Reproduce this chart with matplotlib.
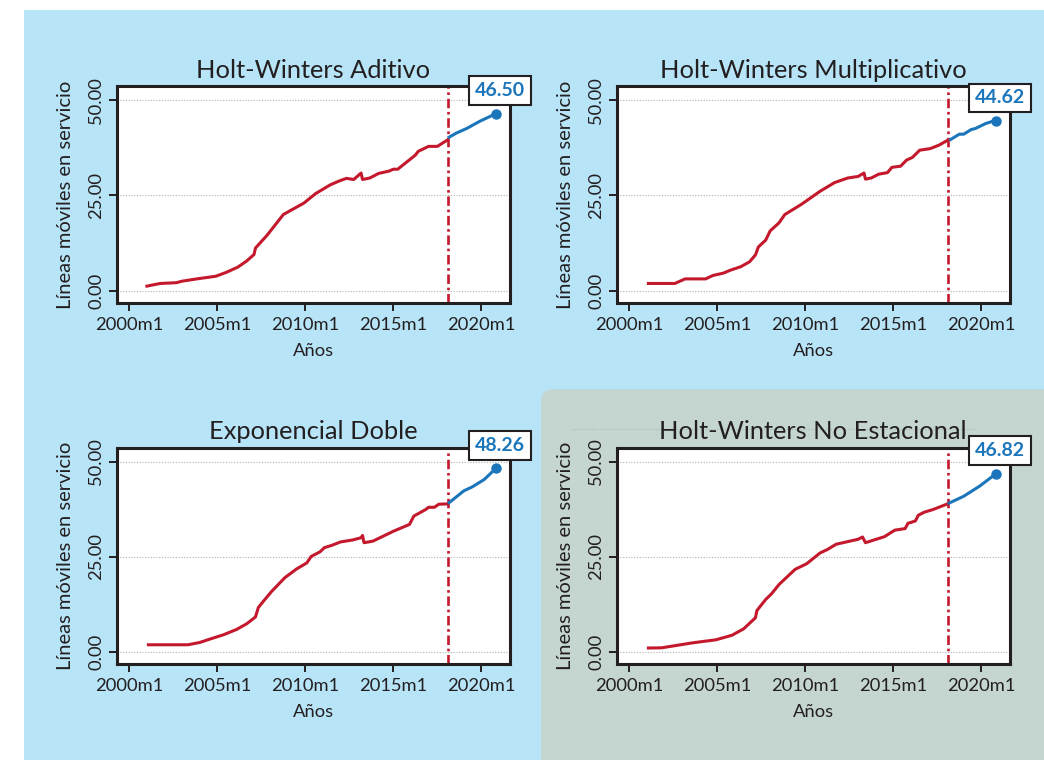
import matplotlib.pyplot as plt
from matplotlib.patches import Rectangle, FancyBboxPatch
from matplotlib.lines import Line2D

plt.rcParams['font.family'] = ['Lato', 'DejaVu Sans']

RED = '#c4182d'
BLUE = '#1b75bb'
INK = '#231f20'
SKY = '#b8e4f8'
SAGE = '#c5d5d0'

# fitted (red) and forecast (blue) series, Stata monthly dates
aditivo_hist_t = ['2001m1', '2001m10', '2002m9', '2003m1', '2003m11', '2004m12', '2005m7',
                  '2006m3', '2006m9', '2007m2', '2007m3', '2007m11', '2008m10', '2009m4',
                  '2009m12', '2010m8', '2011m6', '2011m12', '2012m5', '2012m10', '2013m3',
                  '2013m4', '2013m9', '2014m3', '2014m10', '2015m1', '2015m4', '2016m4',
                  '2016m6', '2017m1', '2017m7', '2018m2']
aditivo_hist_y = [1.2, 1.9, 2.1, 2.5, 3.1, 3.8, 4.8,
                  6.2, 7.8, 9.5, 11.2, 14.6, 20.0, 21.3,
                  23.0, 25.5, 27.8, 28.8, 29.5, 29.2, 30.9,
                  29.2, 29.6, 30.8, 31.4, 31.9, 31.9, 35.6,
                  36.6, 37.9, 37.9, 39.6]
aditivo_fc_t = ['2018m3', '2018m8', '2019m3', '2019m12', '2020m11']
aditivo_fc_y = [40.3, 41.4, 42.6, 44.5, 46.50]

multi_hist_t = ['2001m2', '2002m8', '2003m3', '2004m5', '2004m10', '2005m5', '2005m10',
                '2006m5', '2006m11', '2007m3', '2007m5', '2007m10', '2008m1', '2008m7',
                '2008m11', '2009m10', '2010m4', '2010m11', '2011m9', '2012m6', '2013m1',
                '2013m5', '2013m6', '2013m10', '2014m3', '2014m9', '2014m12', '2015m6',
                '2015m10', '2016m2', '2016m7', '2017m2', '2017m8', '2018m2']
multi_hist_y = [1.9, 1.9, 3.1, 3.1, 4.0, 4.6, 5.4,
                6.3, 7.6, 9.4, 11.5, 13.3, 15.7, 17.8,
                20.0, 22.6, 24.2, 26.1, 28.4, 29.6, 30.0,
                30.9, 29.3, 29.6, 30.6, 31.0, 32.4, 32.7,
                34.3, 35.0, 36.9, 37.3, 38.2, 39.5]
multi_fc_t = ['2018m4', '2018m10', '2019m1', '2019m6', '2019m9', '2020m4', '2020m8', '2020m11']
multi_fc_y = [39.7, 41.1, 41.1, 42.3, 42.6, 43.9, 44.4, 44.62]

doble_hist_t = ['2001m2', '2003m5', '2004m1', '2004m8', '2005m5', '2006m2', '2006m9',
                '2007m3', '2007m5', '2007m9', '2008m2', '2008m11', '2009m7', '2010m2',
                '2010m5', '2010m11', '2011m2', '2011m7', '2012m1', '2012m9', '2013m3',
                '2013m4', '2013m5', '2013m11', '2015m1', '2015m12', '2016m3', '2016m11',
                '2017m1', '2017m5', '2017m8', '2018m2']
doble_hist_y = [1.9, 1.9, 2.5, 3.4, 4.5, 5.9, 7.4,
                9.2, 11.7, 13.6, 15.9, 19.5, 21.8, 23.4,
                25.1, 26.3, 27.4, 28.0, 28.9, 29.4, 30.0,
                30.6, 28.7, 29.1, 31.7, 33.5, 35.7, 37.4,
                38.0, 38.0, 38.8, 38.9]
doble_fc_t = ['2018m3', '2019m1', '2019m7', '2020m3', '2020m11']
doble_fc_y = [39.2, 42.3, 43.4, 45.3, 48.26]

noest_hist_t = ['2001m2', '2001m11', '2003m8', '2004m12', '2005m11', '2006m7', '2007m3',
                '2007m4', '2007m10', '2008m2', '2008m7', '2009m6', '2010m2', '2010m11',
                '2011m4', '2011m10', '2013m1', '2013m4', '2013m6', '2014m7', '2015m2',
                '2015m9', '2015m11', '2016m4', '2016m6', '2016m10', '2017m4', '2018m2']
noest_hist_y = [1.05, 1.1, 2.4, 3.2, 4.4, 6.1, 9.0,
                10.9, 13.8, 15.3, 17.7, 21.7, 23.2, 26.0,
                26.9, 28.3, 29.6, 30.2, 28.7, 30.3, 32.0,
                32.4, 33.8, 34.4, 35.9, 36.7, 37.4, 38.9]
noest_fc_t = ['2018m3', '2019m1', '2019m12', '2020m11']
noest_fc_y = [39.1, 40.9, 43.6, 46.82]

titles = ['Holt-Winters Aditivo', 'Holt-Winters Multiplicativo',
          'Exponencial Doble', 'Holt-Winters No Estacional']
split_month = '2018m2'
x_ticks = ['2000m1', '2005m1', '2010m1', '2015m1', '2020m1']
y_ticks = [0, 25, 50]


def ym(label):
    # '2018m2' -> 2018.083
    year, month = label.split('m')
    return int(year) + (int(month) - 1) / 12


panels = [
    (aditivo_hist_t, aditivo_hist_y, aditivo_fc_t, aditivo_fc_y),
    (multi_hist_t, multi_hist_y, multi_fc_t, multi_fc_y),
    (doble_hist_t, doble_hist_y, doble_fc_t, doble_fc_y),
    (noest_hist_t, noest_hist_y, noest_fc_t, noest_fc_y),
]

fig = plt.figure(figsize=(10.44, 7.6), dpi=100)
fig.patch.set_facecolor('white')
# page background: sky blue block and the sage box behind the last panel
fig.add_artist(Rectangle((0.24, -0.1), 10.4, 7.6, transform=fig.dpi_scale_trans,
                         facecolor=SKY, edgecolor='none', zorder=-2))
fig.add_artist(FancyBboxPatch((5.41, -0.4), 5.6, 4.106,
                              boxstyle='round,pad=0,rounding_size=0.12',
                              transform=fig.dpi_scale_trans,
                              facecolor=SAGE, edgecolor='none', zorder=-1))
# faint dotted rule printed across the sage box
fig.add_artist(Line2D([5.72, 9.75], [3.31, 3.31], transform=fig.dpi_scale_trans,
                      color='#a9b9b3', lw=0.8, linestyle=(0, (1, 1.5)), zorder=-1))

lefts = [117 / 1044, 617 / 1044]
bottoms = [(760 - 302.7) / 760, (760 - 664) / 760]
width = 392.5 / 1044
height = 216.5 / 760

for i, (title, (ht, hy, ft, fy)) in enumerate(zip(titles, panels)):
    row, col = divmod(i, 2)
    ax = fig.add_axes([lefts[col], bottoms[row], width, height])
    ax.set_facecolor('white')

    ax.plot([ym(t) for t in ht], hy, color=RED, lw=2.2, zorder=3)
    ax.plot([ym(t) for t in ft], fy, color=BLUE, lw=2.2, zorder=3)
    ax.plot(ym(ft[-1]), fy[-1], 'o', color=BLUE, ms=6.5, zorder=4, clip_on=False)
    ax.axvline(ym(split_month), color=RED, lw=1.9,
               linestyle=(0, (3.6, 1.4, 1.0, 1.4)), zorder=2)

    ax.annotate(f'{fy[-1]:.2f}', xy=(ym(ft[-1]), fy[-1]), xytext=(3, 16.5),
                textcoords='offset points', ha='center', va='center',
                fontsize=14, fontweight='bold', color=BLUE,
                bbox=dict(boxstyle='square,pad=0.3', fc='white', ec=INK, lw=1.5),
                annotation_clip=False, zorder=6)

    ax.set_xlim(1999.3, 2021.6)
    ax.set_ylim(-3.15, 53.7)
    ax.set_xticks([ym(t) for t in x_ticks])
    ax.set_xticklabels(x_ticks)
    ax.set_yticks(y_ticks)
    ax.set_yticklabels([f'{v:.2f}' for v in y_ticks], rotation=90, va='center')
    ax.grid(axis='y', color='#b0b0b0', lw=0.8, linestyle=(0, (1, 1.5)))
    ax.set_axisbelow(True)

    for s in ax.spines.values():
        s.set_linewidth(2.2)
        s.set_color(INK)
    ax.tick_params(direction='out', length=6, width=1.4, color=INK,
                   labelsize=13.2, labelcolor=INK)
    ax.tick_params(axis='y', pad=3)
    ax.tick_params(axis='x', pad=4)

    ax.set_title(title, fontsize=18.3, color=INK, pad=6)
    ax.set_xlabel('Años', fontsize=13.2, color=INK)
    ax.set_ylabel('Líneas móviles en servicio', fontsize=14.5, color=INK)
    ax.xaxis.set_label_coords(0.5, -0.185)
    ax.yaxis.set_label_coords(-0.11, 0.5)

fig.savefig('out.png', dpi=100)
